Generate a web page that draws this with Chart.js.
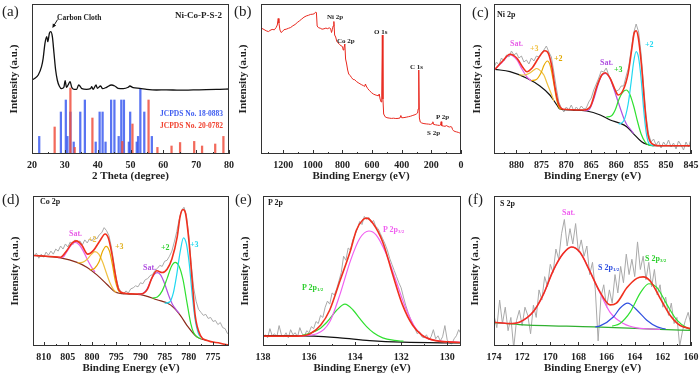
<!DOCTYPE html>
<html>
<head>
<meta charset="utf-8">
<script src="https://cdn.jsdelivr.net/npm/chart.js@4.4.1/dist/chart.umd.min.js"></script>
<style>
  body { margin: 0; background: #fff; }
  #wrap { position: relative; width: 700px; height: 376px; overflow: hidden; font-family: "Liberation Serif", "Times New Roman", serif; }
  canvas { position: absolute; }
  .t { position: absolute; font-weight: bold; font-size: 8px; white-space: nowrap; line-height: 1; transform: translateY(-50%); color: #222; }
  .lab { position: absolute; font-size: 15px; line-height: 1; color: #222; transform: translateY(-50%); }
  .t sub { font-size: 5px; vertical-align: -1px; }
</style>
</head>
<body>
<div id="wrap">
  <canvas id="ca" width="235" height="185" style="left:0;top:0"></canvas>
  <canvas id="cb" width="230" height="185" style="left:235px;top:0"></canvas>
  <canvas id="cc" width="235" height="185" style="left:465px;top:0"></canvas>
  <canvas id="cd" width="235" height="191" style="left:0;top:185px"></canvas>
  <canvas id="ce" width="230" height="191" style="left:235px;top:185px"></canvas>
  <canvas id="cf" width="235" height="191" style="left:465px;top:185px"></canvas>

  <div class="lab" style="left:2px;top:11px">(a)</div>
  <div class="lab" style="left:234px;top:11px">(b)</div>
  <div class="lab" style="left:472px;top:12px">(c)</div>
  <div class="lab" style="left:2px;top:199px">(d)</div>
  <div class="lab" style="left:235px;top:199px">(e)</div>
  <div class="lab" style="left:468px;top:199px">(f)</div>

  <div class="t" style="left:57px;top:18px;font-size:7.5px">Carbon Cloth</div>
  <div class="t" style="left:175px;top:15px;font-size:9px">Ni-Co-P-S-2</div>
  <div class="t" style="left:160px;top:114px;font-size:7.5px;color:#3d5cf0">JCPDS No. 18-0883</div>
  <div class="t" style="left:160px;top:125.5px;font-size:7.5px;color:#f0402e">JCPDS No. 20-0782</div>

  <div class="t" style="left:327px;top:16.5px;font-size:7px">Ni 2p</div>
  <div class="t" style="left:337px;top:40.5px;font-size:7px">Co 2p</div>
  <div class="t" style="left:374px;top:31.5px;font-size:7px">O 1s</div>
  <div class="t" style="left:410px;top:66.5px;font-size:7px">C 1s</div>
  <div class="t" style="left:436px;top:117px;font-size:7px">P 2p</div>
  <div class="t" style="left:427px;top:133px;font-size:7px">S 2p</div>

  <div class="t" style="left:497px;top:15px">Ni 2p</div>
  <div class="t" style="left:510px;top:44px;color:#e860e8">Sat.</div>
  <div class="t" style="left:530px;top:49px;color:#f0c040">+3</div>
  <div class="t" style="left:554px;top:59px;color:#e0a800">+2</div>
  <div class="t" style="left:600px;top:63px;color:#b050e0">Sat.</div>
  <div class="t" style="left:614px;top:70px;color:#30d030">+3</div>
  <div class="t" style="left:645px;top:45px;color:#20d8f0">+2</div>

  <div class="t" style="left:40px;top:202px">Co 2p</div>
  <div class="t" style="left:69px;top:233.5px;color:#e860e8">Sat.</div>
  <div class="t" style="left:88px;top:239.5px;color:#f0c040">+2</div>
  <div class="t" style="left:115px;top:246.5px;color:#e0b020">+3</div>
  <div class="t" style="left:143px;top:267.5px;color:#b050e0">Sat.</div>
  <div class="t" style="left:161px;top:248px;color:#30d030">+2</div>
  <div class="t" style="left:190px;top:245px;color:#20d8f0">+3</div>

  <div class="t" style="left:268px;top:203px">P 2p</div>
  <div class="t" style="left:383px;top:229.5px;color:#f060f0">P 2p<sub>3/2</sub></div>
  <div class="t" style="left:302px;top:288px;color:#30d030">P 2p<sub>1/2</sub></div>

  <div class="t" style="left:500px;top:203.5px">S 2p</div>
  <div class="t" style="left:562px;top:213px;color:#f060f0">Sat.</div>
  <div class="t" style="left:598px;top:267.5px;color:#3050e0">S 2p<sub>1/2</sub></div>
  <div class="t" style="left:645px;top:259px;color:#30d030">S 2p<sub>3/2</sub></div>
</div>
<script>
// ---- (a) XRD ----
const xrdCurve = [[20,74],[20.9,75.7],[21.9,79],[22.9,87.3],[23.4,95.7],[23.95,110.7],[24.5,117.3],[24.8,112.3],[25.3,120.7],[25.7,122.3],[26.2,117.3],[26.7,100.7],[27.2,84],[27.7,74],[28.3,68],[29,65.3],[29.7,66.7],[30.1,73.3],[30.5,66.7],[31,69],[31.6,72.3],[32.1,66.7],[32.8,64.7],[33.6,64.7],[34.2,69],[34.6,68],[35.2,65.3],[36.6,64.7],[37.8,65.3],[38.2,67.3],[38.6,64.7],[39.5,69],[39.9,65.7],[40.9,68],[41.5,65.3],[42.7,66.7],[44.2,69],[45.2,68],[46.2,65.7],[47.8,65.3],[49.3,66.7],[49.8,68],[50.8,66.3],[52.8,65.7],[54.9,64.7],[57.9,64],[60.9,64.2],[65,63.8],[69.1,64.1],[73.1,64.3],[77.2,64.7],[80,65]];
const sticks18 = [[22.2,17.6],[28.8,42],[30.3,54],[30.8,17.6],[31.7,42],[32.7,12],[34.7,42],[36.1,54],[39.4,12],[40.6,42],[41.5,42],[42.4,12],[44.1,54],[45.1,54],[46.4,17.6],[47.2,54],[48,54],[49.5,12],[49.9,42],[51.9,12],[52.3,17.6],[53,65],[54.2,42],[56.5,17.6]];
const sticks20 = [[26.9,27],[31.7,66],[33,6.6],[38.4,36],[47.5,12.6],[50.6,30],[55.5,54],[58.2,6.6],[62.5,8],[65.1,11.5],[69.4,12.6],[71.8,8],[75.8,10],[78.3,17.6]];
const arrowFrom = [27.8, 134.5], arrowTo = [26.2, 126];

// ---- (b) survey ----
const survey = [[1345,125.7],[1330,124.5],[1315,123.2],[1300,122.4],[1290,123.5],[1275,124.6],[1260,124.2],[1248,126.5],[1240,129],[1234,135.5],[1229,131],[1222,124],[1214,121.5],[1205,122.5],[1195,124.3],[1180,124.8],[1165,125.7],[1150,126.5],[1135,128.2],[1120,129.5],[1105,131.5],[1090,133.2],[1075,135],[1060,136.8],[1045,138],[1030,138.7],[1015,139.6],[1000,139.8],[990,140.3],[982,141.8],[976,141.5],[971,128],[962,126.3],[950,125.8],[938,124.8],[925,125.2],[912,125.9],[900,125.3],[890,126.2],[880,125.4],[874,121.5],[868,124.6],[863,128],[858,132.5],[853,119],[846,117],[838,112.5],[830,111.2],[820,109.5],[810,108.3],[800,107.4],[795,104],[790,106],[784,110],[779,95],[773,91],[765,84],[758,80],[748,78.4],[738,76.3],[728,74.5],[718,74.3],[706,72.5],[694,71.3],[682,70.2],[670,69.2],[658,68.3],[650,67.6],[645,70],[640,68],[630,65.5],[618,63.4],[605,61.5],[592,60],[580,59.2],[568,58.6],[558,58.2],[552,60],[546,55],[539,52],[535,60],[531,119],[527,55],[522,40],[512,37.2],[500,36.3],[485,35.9],[470,35.6],[455,35.8],[440,35.5],[425,35.6],[412,36],[406,38.5],[400,36.2],[385,36.4],[370,36.8],[355,37.3],[340,37.8],[325,38.6],[310,39.3],[300,40.2],[293,41],[289,45],[285,84],[281,36],[275,32],[265,31],[250,30.4],[235,30.1],[220,29.9],[205,29.6],[194,30.5],[190,32.2],[185,29.6],[172,29.2],[158,28.8],[145,28.6],[138,29],[134,32.3],[130,28.3],[120,28],[108,27.7],[97,28.4],[88,27.5],[78,27],[68,27.4],[62,26.8],[57,24.5],[50,23.2],[40,22.5],[30,22.1],[18,21.6],[8,21],[0,20.6]];

// ---- (c) Ni 2p ----
const niRaw = [[884.5,87],[884,92],[883.5,89],[883,96],[882.5,93],[882,99],[881.5,97],[881,103],[880.5,99],[880,101],[879.5,96],[879,98],[878.5,92],[878,94],[877.5,90],[877,96],[876.5,93],[876,98],[875.5,97],[875,101],[874.5,104],[874,108],[873.5,102],[873,97],[872.5,82],[872,66],[871.5,52],[871,46],[870.5,42],[870,47],[869.5,44],[869,49],[868.5,43],[868,47],[867.5,44],[867,48],[866.5,45],[866,46],[865.5,52],[865,56],[864.5,64],[864,70],[863.5,76],[863,83],[862.5,82],[862,86],[861.5,79],[861,74],[860.5,66],[860,63],[859.5,64],[859,68],[858.5,68],[858,78],[857.5,87],[857,104],[856.5,121],[856,130],[855.5,122],[855,100],[854.5,68],[854,38],[853.5,20],[853,12],[852.5,15],[852,9],[851.5,13],[851,6],[850.5,12],[850,8],[849.5,14],[849,7],[848.5,11],[848,5],[847.5,13],[847,9],[846.5,4],[846,12],[845.5,7],[845,15]];
const niEnv = [[884.3,84.7],[882.9,92.3],[881.3,99.7],[879.9,95.7],[878.6,85.7],[877.9,82.3],[876.9,85.7],[875.6,95.7],[874.3,103.3],[873.6,100.7],[872.9,87.3],[872.3,67.3],[871.6,50.7],[870.6,44.7],[866.6,44],[865.2,47.3],[863.9,67.3],[862.9,79],[862.2,81.3],[861.2,75.7],[860.2,64],[859.6,59],[858.6,64],[857.6,80.7],[856.9,104],[856.4,120.7],[856,123.3],[855.6,117.3],[854.9,87.3],[854.2,44],[853.6,19],[852.9,10.7],[851.2,8.3],[845,8.3]];
const niBg = [[884.3,84.7],[881.3,82.3],[877.9,75.7],[875.3,68],[873.3,59],[871.9,49],[871.3,45],[869.2,44],[865.9,43],[863.2,39],[861.2,34],[859.2,30.7],[857.9,27.3],[856.6,20.7],[854.9,12.3],[853.9,9.7],[852.6,8.3],[845,8.3]];
const niSat1 = [[884.3,84.7],[882.9,91.5],[881.3,99],[879.9,94],[878.9,85],[877.9,77],[877,73]];
const ni3a = [[879.5,79],[878.5,79],[877.5,80.5],[876.5,84],[876,85.5],[875.5,84.5],[874.5,79],[873.8,70],[873,60],[872.5,53]];
const ni2a = [[877,73.5],[876,74.5],[875,82],[874.5,88.5],[873.8,93],[873.2,88],[872.6,73],[872,56],[871.5,47],[871,44.5]];
const niSat2 = [[866.5,43.3],[865.5,44],[864.5,55],[863.6,70],[862.9,78.5],[862.2,80.7],[861.5,78],[860.8,70],[860,58],[859.2,46],[858.5,36],[857.9,29.5],[857.2,25],[856.5,20.5]];
const ni3b = [[862,37],[861,38],[860.2,44],[859.5,54],[858.8,61],[858,64],[857.3,60],[856.5,48],[855.8,34],[855,20],[854.2,12],[853.5,9],[852.5,8.3]];
const ni2b = [[859.5,30],[858.5,33],[857.6,50],[857,72],[856.5,92],[856,102.3],[855.5,96],[855,75],[854.5,45],[854,22],[853.5,11],[853,9],[852.5,8.3]];

// ---- (d) Co 2p ----
const coRaw = [[812,88],[811.5,91],[811,86],[810.5,90],[810,87],[809.5,92],[809,89],[808.5,93],[808,90],[807.5,95],[807,93],[806.5,98],[806,95],[805.5,100],[805,97],[804.5,102],[804,99],[803.5,104],[803,101],[802.5,103],[802,99],[801.5,104],[801,101],[800.5,105],[800,103],[799.5,107],[799,105],[798.5,109],[798,111],[797.5,116],[797,113],[796.5,108],[796,97],[795.5,82],[795,66],[794.5,57],[794,53],[793.5,51],[793,54],[792.5,52],[792,56],[791.5,57],[791,59],[790.5,58],[790,62],[789.5,61],[789,65],[788.5,66],[788,69],[787.5,70],[787,74],[786.5,76],[786,79],[785.5,78],[785,83],[784.5,84],[784,88],[783.5,93],[783,102],[782.5,112],[782,124],[781.5,133],[781,136],[780.5,128],[780,108],[779.5,80],[779,57],[778.5,44],[778,36],[777.5,33],[777,30],[776.5,31],[776,27],[775.5,28],[775,24],[774.5,25],[774,21],[773.5,23],[773,18],[772.5,17],[772,12]];
const coEnv = [[812.1,88.7],[808.6,87.7],[806.5,87],[805.2,93.7],[804.1,101],[803.2,103],[802.1,98.7],[800.9,90],[799.7,93.7],[798.3,103.7],[797.3,109.7],[796.6,105.3],[795.9,90.3],[795.2,70.3],[794.5,55.3],[793.5,52],[790,51],[788.6,55.3],[787.6,67],[786.6,73.7],[785.5,72],[784.5,75.3],[783.5,85.3],[782.4,107],[781.8,127],[781.2,133.7],[780.7,130.3],[780,103.7],[779.3,63.7],[778.7,30.3],[777.6,10.3],[776.2,5.3],[773.5,2.7],[771.4,0.3]];
const coBg = [[812.1,88.7],[806.5,86.3],[803.1,82],[801,77],[799,69.7],[796.9,60.3],[795.2,53],[792.8,51],[790,50.3],[786.6,45.3],[783.8,40.3],[781.8,30.3],[780.4,20.3],[778.3,8.7],[776.2,5.3]];
const coSat1 = [[807,86.5],[806,87],[805.2,92.5],[804.3,99],[803.5,101.5],[802.6,99],[801.8,93],[801,85],[800.2,78],[799.4,72.5]];
const co2a = [[803,81.5],[802,82],[801,85],[800.2,89.5],[799.4,92.5],[798.6,90],[797.8,82],[797,71],[796.3,62],[795.6,55.5],[795,52.5]];
const co3a = [[800.5,74.5],[799.5,76],[798.6,82],[797.8,93],[797.1,97.7],[796.4,93],[795.8,80],[795.2,64],[794.6,55],[794,52]];
const coSat2 = [[790.5,50.8],[789.5,51.5],[788.6,56],[787.8,65],[787.1,70.5],[786.5,72],[785.8,69.5],[785,61],[784.2,50],[783.4,41],[782.6,35.5],[782,32]];
const co2b = [[787.5,47],[786.5,48],[785.5,54],[784.5,66],[783.6,78],[782.8,82],[782,78],[781.2,65],[780.4,43],[779.6,22],[779,13],[778.3,9],[777.5,7]];
const co3b = [[785,42],[784,43],[783.2,52],[782.5,70],[781.8,92],[781.1,106],[780.5,100],[779.9,80],[779.3,50],[778.7,26],[778,12],[777.3,8]];

// ---- (e) P 2p ----
const pRaw = [[138,9],[137.9,11],[137.8,8],[137.7,17],[137.6,10],[137.5,12],[137.4,9],[137.3,20],[137.2,11],[137.1,9],[137,13],[136.9,8],[136.8,16],[136.7,11],[136.6,13],[136.5,9],[136.4,18],[136.3,12],[136.2,10],[136.1,15],[136,13],[135.9,19],[135.8,17],[135.7,24],[135.6,22],[135.5,30],[135.4,28],[135.3,38],[135.2,44],[135.1,41],[135,52],[134.9,50],[134.8,56],[134.7,64],[134.6,72],[134.5,88],[134.4,84],[134.3,96],[134.2,94],[134.1,104],[134,109],[133.9,115],[133.8,122],[133.7,119],[133.6,127],[133.5,124],[133.4,126],[133.3,121],[133.2,123],[133.1,117],[133,115],[132.9,110],[132.8,105],[132.7,100],[132.6,94],[132.5,86],[132.4,80],[132.3,74],[132.2,68],[132.1,62],[132,57],[131.9,48],[131.8,40],[131.7,33],[131.6,27],[131.5,22],[131.4,17],[131.3,12],[131.2,14],[131.1,9],[131,8],[130.9,11],[130.8,6],[130.7,9],[130.6,16],[130.5,7],[130.4,10],[130.3,5],[130.2,9],[130.1,20],[130,6],[129.9,3],[129.8,2],[129.7,7],[129.6,10],[129.5,16],[129.4,12]];
const pEnv = [[138,9.7],[136.5,9.7],[135.95,12],[135.5,20.3],[135.1,35.3],[134.66,63.7],[134.2,93.7],[133.94,113.7],[133.66,123.7],[133.5,125.3],[133.23,120.3],[132.8,102],[132.37,70.3],[131.94,40.3],[131.5,20.3],[131.08,10.3],[130.5,5.3],[129.4,3.5]];
const pBg = [[138,10.3],[135.8,9.7],[134.66,8],[133.37,5.3],[131.94,3.7],[129.4,3]];
const p32 = [[136.5,9.7],[135.66,12],[135.1,23.7],[134.66,50.3],[134.2,83.7],[133.8,105.3],[133.4,112.7],[133.08,108.7],[132.65,90.3],[132.22,63.7],[131.8,37],[131.36,17],[130.8,7],[129.4,3.5]];
const p12 = [[136.3,10.5],[135.9,13],[135.5,17.5],[135.2,24],[134.8,35],[134.44,41],[134.09,35.3],[133.8,27],[133.5,19],[133.2,13],[132.8,8],[132.3,5.5],[131.9,4.7]];

// ---- (f) S 2p ----
const sRaw = [[174,30],[173.8,18],[173.6,45],[173.4,22],[173.2,38],[173,15],[172.8,28],[172.6,-2],[172.4,25],[172.2,35],[172,20],[171.8,38],[171.6,30],[171.4,12],[171.2,40],[171,28],[170.8,55],[170.6,45],[170.4,68],[170.2,58],[170,80],[169.8,72],[169.6,95],[169.4,85],[169.2,110],[169,124],[168.8,98],[168.6,115],[168.4,100],[168.2,120],[168,92],[167.8,104],[167.6,88],[167.4,98],[167.2,70],[167,82],[166.8,55],[166.6,5],[166.4,48],[166.2,60],[166,38],[165.8,55],[165.6,42],[165.4,70],[165.2,52],[165,78],[164.8,62],[164.6,90],[164.4,70],[164.2,85],[164,68],[163.8,102],[163.6,75],[163.4,88],[163.2,65],[163,82],[162.8,58],[162.6,75],[162.4,50],[162.2,60],[162,38],[161.8,48],[161.6,30],[161.4,42],[161.2,22],[161,28],[160.8,0],[160.6,15],[160.4,25],[160.2,33],[160,20]];
const sEnv = [[174,23.3],[172.9,22],[172.2,23.3],[171.2,33.7],[170.5,50.3],[169.8,73.7],[169.1,90.3],[168.5,97],[167.9,92],[167.2,73.7],[166.5,53.7],[165.75,40.3],[165.3,42],[164.56,57],[163.85,66.3],[163.4,67.7],[162.9,63.7],[162.2,47],[161.5,30.3],[160.8,20.3],[160,17]];
const sBg = [[174,23],[172.2,21],[166.9,18.7],[162.2,16.3],[160,15.3]];
const sSat = [[174,23.3],[172.9,22],[172.2,23.3],[171.2,33.7],[170.5,50.3],[169.8,73.7],[169.1,90.3],[168.5,97],[167.9,92],[167.2,73.7],[166.5,53],[165.75,33],[164.8,22],[163.85,17.7],[162.2,16.3]];
const s12 = [[166.8,18.8],[166.5,19.5],[165.5,28.7],[165.05,37],[164.5,42],[163.85,35.3],[163.14,25.3],[162.4,18.7],[161.8,16.5]];
const s32 = [[165.6,19.5],[165.05,22],[164.3,33.7],[163.6,52],[163,61],[162.4,57],[161.7,40.3],[161,25.3],[160.3,17.7],[160,16]];

Chart.defaults.font.family = '"Liberation Serif", "Times New Roman", serif';
Chart.defaults.color = '#222';

const pts = arr => arr.map(p => ({x: p[0], y: p[1]}));

function line(arr, color, width, smooth) {
    return {
        type: 'line',
        data: pts(arr),
        borderColor: color,
        borderWidth: width,
        pointRadius: 0,
        fill: false,
        tension: smooth ? 0.4 : 0,
        cubicInterpolationMode: smooth ? 'monotone' : 'default'
    };
}

// box around the plot + inward ticks on the bottom axis
const framePlugin = {
    id: 'frame',
    afterDraw(chart, args, opts) {
        const {ctx, chartArea: a, scales: {x}} = chart;
        ctx.save();
        ctx.strokeStyle = '#333';
        ctx.lineWidth = 1;
        ctx.strokeRect(a.left + 0.5, a.top + 0.5, a.right - a.left - 1, a.bottom - a.top - 1);
        ctx.beginPath();
        for (let v = Math.ceil(x.min / opts.minor) * opts.minor; v <= x.max + 1e-9; v += opts.minor) {
            const px = Math.round(x.getPixelForValue(v)) + 0.5;
            const r = v / opts.major;
            const len = Math.abs(r - Math.round(r)) < 1e-6 ? 4 : 2;
            ctx.moveTo(px, a.bottom);
            ctx.lineTo(px, a.bottom - len);
        }
        ctx.stroke();
        ctx.restore();
    }
};

const arrowPlugin = {
    id: 'arrow',
    afterDatasetsDraw(chart) {
        const {ctx, scales: {x, y}} = chart;
        const x0 = x.getPixelForValue(arrowFrom[0]), y0 = y.getPixelForValue(arrowFrom[1]);
        const x1 = x.getPixelForValue(arrowTo[0]), y1 = y.getPixelForValue(arrowTo[1]);
        const ang = Math.atan2(y1 - y0, x1 - x0);
        ctx.save();
        ctx.strokeStyle = '#111';
        ctx.fillStyle = '#111';
        ctx.lineWidth = 1;
        ctx.beginPath();
        ctx.moveTo(x0, y0);
        ctx.lineTo(x1 - 3 * Math.cos(ang), y1 - 3 * Math.sin(ang));
        ctx.stroke();
        ctx.beginPath();
        ctx.moveTo(x1, y1);
        ctx.lineTo(x1 - 4.5 * Math.cos(ang - 0.45), y1 - 4.5 * Math.sin(ang - 0.45));
        ctx.lineTo(x1 - 4.5 * Math.cos(ang + 0.45), y1 - 4.5 * Math.sin(ang + 0.45));
        ctx.closePath();
        ctx.fill();
        ctx.restore();
    }
};

function panel(id, box, xs, datasets, extra) {
    return new Chart(document.getElementById(id), {
        type: 'line',
        data: {datasets: datasets},
        options: {
            responsive: false,
            animation: false,
            events: [],
            layout: {padding: {left: 0, top: box.pt - box.top, right: box.left + box.w - box.pr, bottom: 0}},
            plugins: {
                legend: {display: false},
                tooltip: {enabled: false},
                frame: {major: xs.step, minor: xs.minor}
            },
            scales: {
                x: {
                    type: 'linear', reverse: !!xs.reverse, min: xs.min, max: xs.max, offset: false,
                    grid: {display: false, drawTicks: false, tickLength: 0}, border: {display: false},
                    ticks: {stepSize: xs.step, includeBounds: false, autoSkip: false, maxRotation: 0, padding: box.tkp,
                            font: {size: 10, weight: 'bold'}, callback: v => String(v)},
                    title: {display: true, text: xs.title, font: {size: 11, weight: 'bold'}, padding: {top: 0, bottom: box.tb}},
                    afterFit: s => { s.height = box.top + box.h - box.pb; s.paddingLeft = 0; s.paddingRight = 0; }
                },
                y: {
                    min: 0, max: box.ymax,
                    grid: {display: false}, border: {display: false}, ticks: {display: false},
                    title: {display: true, text: 'Intensity (a.u.)', font: {size: 11, weight: 'bold'}, padding: {top: box.tp, bottom: 0}},
                    afterFit: s => { s.width = box.pl - box.left; }
                }
            }
        },
        plugins: [framePlugin].concat(extra || [])
    });
}

const RED = '#f0301e', GRAY = '#a9a9a9';
const top1 = {top: 0, h: 185, pt: 4, pb: 154, ymax: 150, tb: 2.4, tkp: 5};
const top2 = {top: 185, h: 191, pt: 196, pb: 346, ymax: 147, tb: 1.4, tkp: 5};

// (a)
panel('ca', Object.assign({left: 0, w: 235, pl: 32, pr: 229, tp: 7.4}, top1),
    {min: 20, max: 80, step: 10, minor: 5, title: '2 Theta (degree)'},
    [
        line(xrdCurve, '#111', 1.3, true),
        {type: 'bar', data: pts(sticks20), backgroundColor: 'rgba(240,80,64,0.85)', barThickness: 1.6, grouped: false},
        {type: 'bar', data: pts(sticks18), backgroundColor: 'rgba(60,92,240,0.85)', barThickness: 1.6, grouped: false}
    ], [arrowPlugin]);

// (b)
panel('cb', Object.assign({left: 235, w: 230, pl: 261, pr: 461, tp: 1.7}, top1),
    {min: 0, max: 1350, step: 200, minor: 100, reverse: true, title: 'Binding Energy (eV)'},
    [line(survey, '#e8281e', 1, false)]);

// (c)
panel('cc', Object.assign({left: 465, w: 235, pl: 494, pr: 691, tp: 5.1}, top1),
    {min: 845, max: 884.5, step: 5, minor: 2.5, reverse: true, title: 'Binding Energy (eV)'},
    [
        line(niEnv, RED, 1.6, true),
        line(ni2b, '#20d8f0', 1.2, true),
        line(ni3b, '#30e030', 1.2, true),
        line(niSat2, '#b050e0', 1.2, true),
        line(ni2a, '#e8a800', 1.2, true),
        line(ni3a, '#f0c040', 1.2, true),
        line(niSat1, '#e860e8', 1.2, true),
        line(niBg, '#111', 1.2, true),
        line(niRaw, GRAY, 1, false)
    ]);

// (d)
panel('cd', Object.assign({left: 0, w: 235, pl: 33, pr: 229, tp: 8.4}, top2),
    {min: 771.7, max: 812.2, step: 5, minor: 2.5, reverse: true, title: 'Binding Energy (eV)'},
    [
        line(coEnv, RED, 1.6, true),
        line(co3b, '#20d8f0', 1.2, true),
        line(co2b, '#30e030', 1.2, true),
        line(coSat2, '#b050e0', 1.2, true),
        line(co3a, '#e8a800', 1.2, true),
        line(co2a, '#f0c040', 1.2, true),
        line(coSat1, '#e860e8', 1.2, true),
        line(coBg, '#8b2a1a', 1.2, true),
        line(coRaw, GRAY, 1, false)
    ]);

// (e)
panel('ce', Object.assign({left: 235, w: 230, pl: 263, pr: 461, tp: 3.4}, top2),
    {min: 129.4, max: 138, step: 2, minor: 1, reverse: true, title: 'Binding Energy (eV)'},
    [
        line(pEnv, RED, 1.6, true),
        line(p32, '#f060f0', 1.2, true),
        line(p12, '#30e030', 1.2, true),
        line(pBg, '#111', 1.2, true),
        line(pRaw, GRAY, 1, false)
    ]);

// (f)
panel('cf', Object.assign({left: 465, w: 235, pl: 494, pr: 691, tp: 3.4}, top2),
    {min: 160, max: 174, step: 2, minor: 1, reverse: true, title: 'Binding Energy (eV)'},
    [
        line(sEnv, RED, 1.6, true),
        line(s32, '#30e030', 1.2, true),
        line(s12, '#3050e0', 1.2, true),
        line(sSat, '#f060f0', 1.2, true),
        line(sBg, '#30b030', 1.2, true),
        line(sRaw, GRAY, 1, false)
    ]);
</script>
</body>
</html>
